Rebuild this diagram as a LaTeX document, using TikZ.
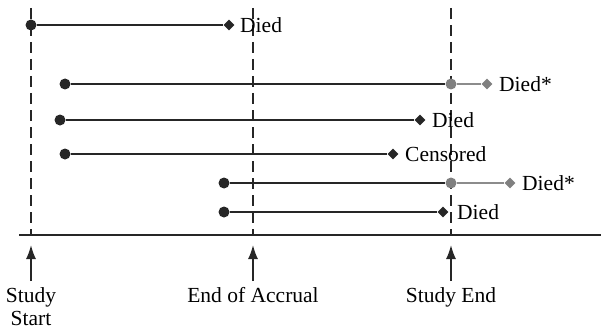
\documentclass[tikz,border=0pt]{standalone}
\usepackage{fontspec}
\setmainfont{Liberation Serif}
\usetikzlibrary{shapes.geometric,arrows.meta}
\begin{document}
\begin{tikzpicture}[x=1pt,y=-1pt,
  dotb/.style={circle,fill=black!85,inner sep=0pt,minimum size=11pt},
  dotg/.style={circle,fill=black!50,inner sep=0pt,minimum size=11pt},
  diab/.style={diamond,fill=black!85,inner sep=0pt,minimum size=11pt},
  diag/.style={diamond,fill=black!50,inner sep=0pt,minimum size=11pt},
  seg/.style={line width=1.6pt,black!85},
  segg/.style={line width=1.6pt,black!45},
  vdash/.style={line width=1.6pt,black!85,dash pattern=on 11pt off 6pt},
  lab/.style={font=\fontsize{21.5}{24}\selectfont,inner sep=0pt,anchor=west},
  blab/.style={font=\fontsize{21.5}{23}\selectfont,inner sep=0pt,align=center,anchor=north},
  upar/.style={line width=1.6pt,black!85,-{Latex[length=14pt,width=10pt]}}]
\useasboundingbox (0,0) rectangle (601,334);
% dashed vertical lines
\coordinate (s1) at (31,8); \coordinate (s2) at (31,235);
\coordinate (a1) at (253,8); \coordinate (a2) at (253,235);
\coordinate (e1) at (451,8); \coordinate (e2) at (451,235);
\draw[vdash] (s1) -- (s2);
\draw[vdash] (a1) -- (a2);
\draw[vdash] (e1) -- (e2);
% axis
\coordinate (x1) at (19,235); \coordinate (x2) at (601,235);
\draw[seg] (x1) -- (x2);
% row 1
\node[dotb] (r1a) at (31,25) {};
\node[diab] (r1b) at (229,25) {};
\draw[seg] (r1a) -- (r1b);
\node[lab] (r1t) at (240,25) {Died};
% row 2
\node[dotb] (r2a) at (65,84) {};
\node[dotg] (r2m) at (451,84) {};
\node[diag] (r2b) at (487,84) {};
\draw[seg] (r2a) -- (r2m);
\draw[segg] (r2m) -- (r2b);
\node[lab] (r2t) at (499,84) {Died*};
% row 3
\node[dotb] (r3a) at (60,120) {};
\node[diab] (r3b) at (420,120) {};
\draw[seg] (r3a) -- (r3b);
\node[lab] (r3t) at (432,120) {Died};
% row 4
\node[dotb] (r4a) at (65,154) {};
\node[diab] (r4b) at (393,154) {};
\draw[seg] (r4a) -- (r4b);
\node[lab] (r4t) at (405,154) {Censored};
% row 5
\node[dotb] (r5a) at (224,183) {};
\node[dotg] (r5m) at (451,183) {};
\node[diag] (r5b) at (510,183) {};
\draw[seg] (r5a) -- (r5m);
\draw[segg] (r5m) -- (r5b);
\node[lab] (r5t) at (522,183) {Died*};
% row 6
\node[dotb] (r6a) at (224,212) {};
\node[diab] (r6b) at (443,212) {};
\draw[seg] (r6a) -- (r6b);
\node[lab] (r6t) at (457,212) {Died};
% arrows
\coordinate (sa1) at (31,281); \coordinate (sa2) at (31,245);
\coordinate (aa1) at (253,281); \coordinate (aa2) at (253,245);
\coordinate (ea1) at (451,281); \coordinate (ea2) at (451,245);
\draw[upar] (sa1) -- (sa2);
\draw[upar] (aa1) -- (aa2);
\draw[upar] (ea1) -- (ea2);
\node[blab] (sl) at (31,287) {Study\\Start};
\node[blab] (al) at (253,287) {End of Accrual};
\node[blab] (el) at (451,287) {Study End};
\end{tikzpicture}
\end{document}
